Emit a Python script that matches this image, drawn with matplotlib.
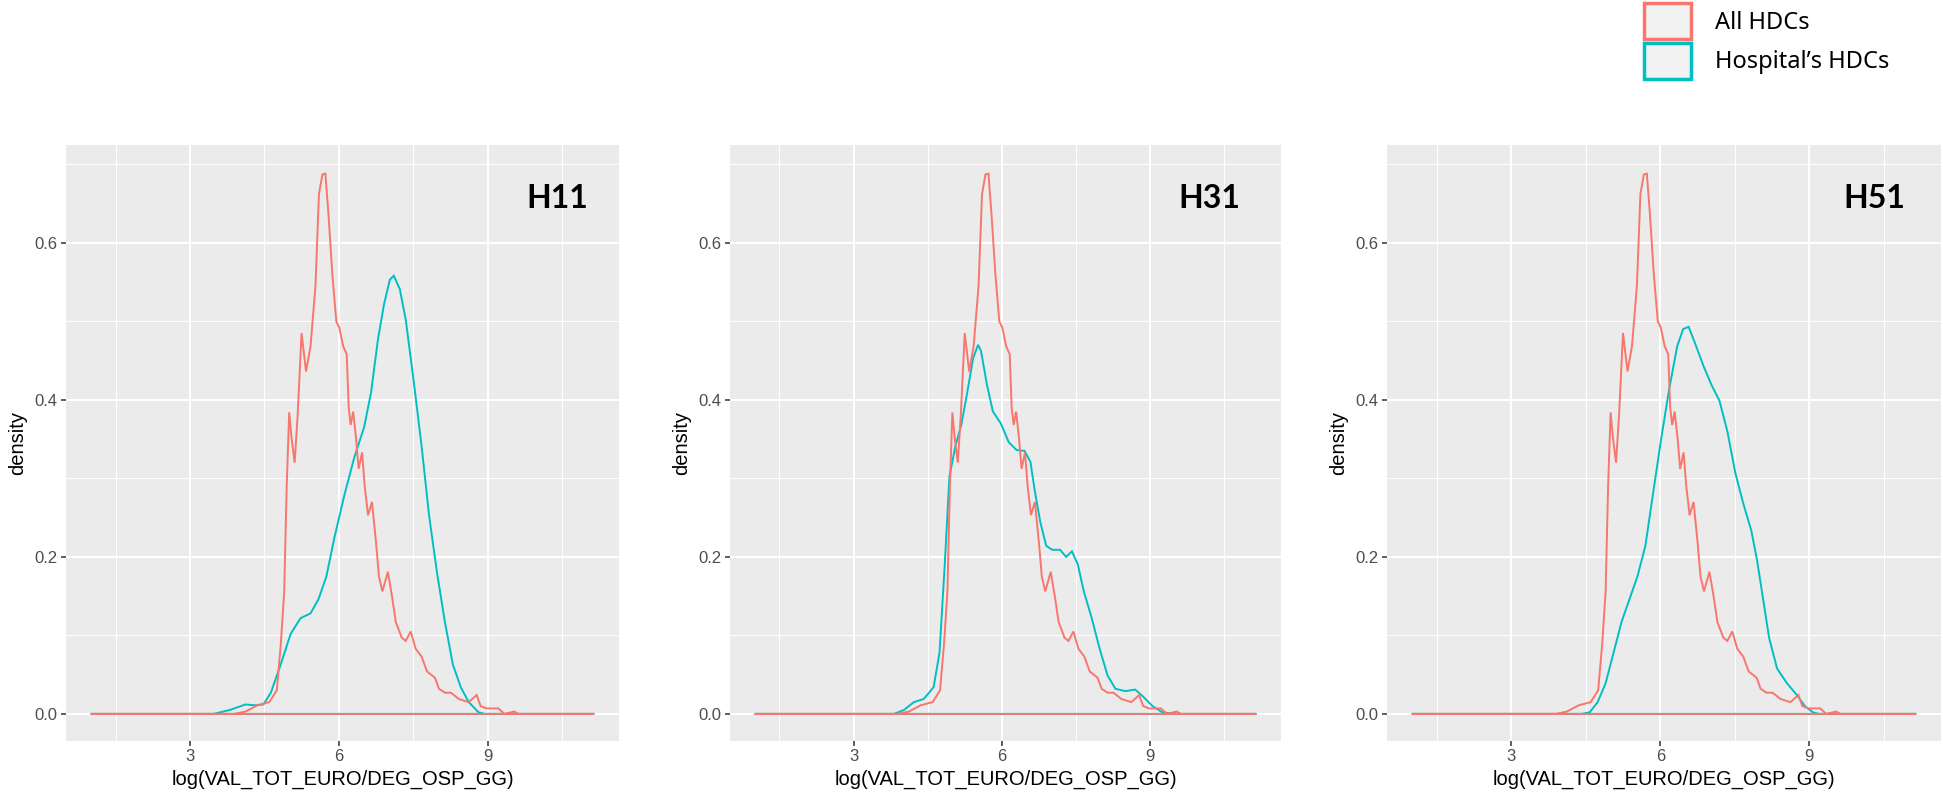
import matplotlib
matplotlib.use("Agg")
import matplotlib.pyplot as plt
from matplotlib.patches import Patch

# density curves
all_x = [1.0, 3.9, 4.12, 4.36, 4.6, 4.75, 4.83, 4.9, 4.95, 5.0, 5.05, 5.11, 5.17, 5.25, 5.34, 5.43,
         5.53, 5.6, 5.67, 5.73, 5.79, 5.87, 5.95, 6.01, 6.09, 6.16, 6.2, 6.24, 6.29, 6.35, 6.4,
         6.47, 6.52, 6.59, 6.67, 6.75, 6.81, 6.88, 6.99, 7.07, 7.15, 7.27, 7.35, 7.45, 7.55, 7.67,
         7.78, 7.94, 8.02, 8.14, 8.26, 8.42, 8.62, 8.78, 8.86, 8.98, 9.22, 9.34, 9.54, 9.62, 11.15]
all_y = [0, 0, .003, .011, .015, .03, .088, .156, .29, .384, .35, .32, .38, .485, .436, .468,
         .545, .662, .687, .688, .638, .56, .50, .492, .468, .458, .39, .368, .385, .35, .312,
         .333, .292, .253, .27, .219, .175, .156, .181, .151, .117, .097, .093, .105, .083, .073,
         .054, .046, .032, .027, .027, .019, .015, .024, .01, .007, .007, 0, .003, 0, 0]

h11_x = [1.0, 3.48, 3.8, 4.12, 4.32, 4.48, 4.63, 4.83, 5.03, 5.23, 5.43, 5.59, 5.75, 5.91, 6.11,
         6.31, 6.51, 6.65, 6.79, 6.91, 7.03, 7.11, 7.23, 7.35, 7.51, 7.67, 7.82, 7.98, 8.14, 8.3,
         8.46, 8.62, 8.82, 8.94, 11.15]
h11_y = [0, 0, .005, .012, .011, .012, .027, .063, .102, .122, .128, .146, .175, .224, .278,
         .326, .365, .409, .477, .521, .553, .558, .541, .502, .424, .341, .253, .18, .117, .063,
         .034, .015, .002, 0, 0]

h31_x = [1.0, 3.82, 4.02, 4.22, 4.42, 4.62, 4.74, 4.85, 4.94, 5.06, 5.18, 5.3, 5.42, 5.52, 5.58,
         5.7, 5.82, 5.98, 6.14, 6.3, 6.46, 6.58, 6.66, 6.78, 6.9, 7.02, 7.18, 7.3, 7.42, 7.54,
         7.66, 7.82, 7.98, 8.14, 8.3, 8.5, 8.7, 8.86, 9.05, 9.25, 9.49, 11.15]
h31_y = [0, 0, .005, .015, .019, .034, .078, .195, .302, .341, .368, .409, .453, .47, .462,
         .419, .385, .37, .346, .336, .335, .321, .287, .244, .214, .209, .209, .2, .207, .19,
         .156, .122, .083, .049, .032, .029, .031, .022, .01, .002, 0, 0]

h51_x = [1.0, 4.42, 4.58, 4.74, 4.9, 5.06, 5.22, 5.38, 5.54, 5.7, 5.86, 6.02, 6.18, 6.34, 6.46,
         6.57, 6.7, 6.87, 7.03, 7.19, 7.35, 7.51, 7.67, 7.83, 7.95, 8.07, 8.19, 8.35, 8.55, 8.75,
         8.91, 9.07, 9.19, 11.15]
h51_y = [0, 0, .002, .015, .039, .078, .117, .146, .175, .214, .283, .351, .414, .468, .49,
         .493, .472, .443, .419, .399, .36, .307, .268, .234, .195, .146, .097, .058, .039, .024,
         .01, .002, 0, 0]

panels = ["H11", "H31", "H51"]
hosp_x = [h11_x, h31_x, h51_x]
hosp_y = [h11_y, h31_y, h51_y]
label_x = [10.4, 10.2, 10.3]
legend_labels = ["All HDCs", "Hospital\u2019s HDCs"]

RED = "#F8766D"
CYAN = "#00BFC4"

plt.rcParams["font.family"] = ["Liberation Sans", "DejaVu Sans"]

fig = plt.figure(figsize=(19.43, 7.96), dpi=100)
lefts = [66, 730, 1387]
widths = [553, 551, 554]

for i, name in enumerate(panels):
    ax = fig.add_axes([lefts[i] / 1943, 55 / 796, widths[i] / 1943, 596 / 796])
    ax.set_facecolor("#EBEBEB")
    for s in ax.spines.values():
        s.set_visible(False)
    ax.set_xlim(0.5, 11.65)
    ax.set_ylim(-0.0345, 0.7245)
    ax.set_xticks([3, 6, 9])
    ax.set_xticks([1.5, 4.5, 7.5, 10.5], minor=True)
    ax.set_yticks([0.0, 0.2, 0.4, 0.6])
    ax.set_yticks([0.1, 0.3, 0.5, 0.7], minor=True)
    ax.set_yticklabels(["0.0", "0.2", "0.4", "0.6"])
    ax.grid(which="major", color="white", lw=1.5)
    ax.grid(which="minor", color="white", lw=0.75)
    ax.set_axisbelow(True)
    ax.tick_params(which="major", length=3.6, width=1.1, color="#333333",
                   labelcolor="#4D4D4D", labelsize=12, pad=2.5)
    ax.tick_params(which="minor", length=0)

    # hospital first, all HDCs drawn on top (outline includes base line)
    ax.fill(hosp_x[i], hosp_y[i], facecolor="none", edgecolor=CYAN, lw=1.4)
    ax.fill(all_x, all_y, facecolor="none", edgecolor=RED, lw=1.4)

    ax.text(label_x[i], 0.656, name, ha="center", va="center", fontsize=23,
            fontweight="bold", family=["Lato", "DejaVu Sans"], color="black")
    ax.set_xlabel("log(VAL_TOT_EURO/DEG_OSP_GG)", fontsize=14.5, labelpad=4)
    ax.set_ylabel("density", fontsize=14.5, labelpad=5)

handles = [Patch(facecolor="#F2F2F2", edgecolor=RED, lw=2.5),
           Patch(facecolor="#F2F2F2", edgecolor=CYAN, lw=2.5)]
fig.legend(handles, legend_labels, loc="upper left", bbox_to_anchor=(1644 / 1943, 1 - 3 / 796),
           frameon=False, prop={"family": ["Noto Sans", "DejaVu Sans"], "size": 17},
           handlelength=2.0, handleheight=2.0, handletextpad=1.0, labelspacing=0.13,
           borderpad=0, borderaxespad=0)

fig.savefig("out.png", dpi=100)
